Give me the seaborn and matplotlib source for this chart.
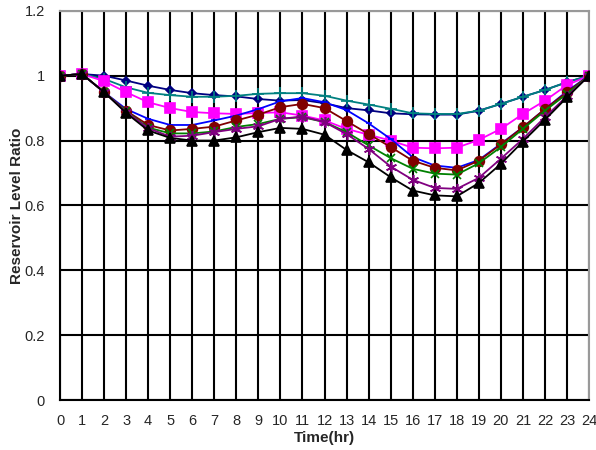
import matplotlib
matplotlib.use("Agg")
import matplotlib.pyplot as plt
import seaborn as sns
import pandas as pd

hours = list(range(25))

navy = [1.0, 1.005, 1.0, 0.985, 0.969, 0.956, 0.946, 0.940, 0.936, 0.928, 0.923, 0.925, 0.915,
        0.900, 0.893, 0.884, 0.881, 0.880, 0.880, 0.892, 0.913, 0.935, 0.956, 0.980, 1.0]
teal = [1.0, 1.005, 0.990, 0.964, 0.947, 0.940, 0.935, 0.935, 0.938, 0.944, 0.946, 0.946, 0.938,
        0.923, 0.911, 0.898, 0.884, 0.882, 0.882, 0.892, 0.913, 0.935, 0.956, 0.980, 1.0]
magenta = [1.0, 1.005, 0.983, 0.949, 0.918, 0.900, 0.888, 0.884, 0.882, 0.885, 0.887, 0.877, 0.862,
           0.836, 0.818, 0.800, 0.778, 0.776, 0.778, 0.802, 0.836, 0.882, 0.923, 0.971, 1.0]
blue = [1.0, 1.005, 0.949, 0.897, 0.867, 0.848, 0.848, 0.862, 0.877, 0.897, 0.921, 0.931, 0.918,
        0.894, 0.853, 0.805, 0.749, 0.723, 0.716, 0.740, 0.790, 0.841, 0.897, 0.952, 1.0]
darkred = [1.0, 1.005, 0.949, 0.892, 0.848, 0.831, 0.836, 0.843, 0.862, 0.880, 0.903, 0.913, 0.900,
           0.860, 0.820, 0.780, 0.738, 0.716, 0.708, 0.738, 0.788, 0.841, 0.897, 0.949, 1.0]
green = [1.0, 1.005, 0.949, 0.890, 0.840, 0.822, 0.822, 0.828, 0.842, 0.851, 0.867, 0.872, 0.857,
         0.826, 0.785, 0.746, 0.713, 0.698, 0.695, 0.730, 0.780, 0.836, 0.892, 0.944, 1.0]
purple = [1.0, 1.005, 0.949, 0.888, 0.838, 0.812, 0.815, 0.826, 0.836, 0.844, 0.867, 0.874, 0.857,
          0.820, 0.774, 0.720, 0.679, 0.654, 0.651, 0.685, 0.744, 0.805, 0.872, 0.937, 1.0]
black = [1.0, 1.005, 0.949, 0.885, 0.831, 0.808, 0.800, 0.800, 0.810, 0.826, 0.839, 0.836, 0.818,
         0.771, 0.733, 0.687, 0.646, 0.631, 0.628, 0.669, 0.728, 0.797, 0.864, 0.933, 1.0]

series = [
    (navy, "#000080", "D", 4.5),
    (teal, "#008080", "+", 8),
    (magenta, "#FF00FF", "s", 6.5),
    (blue, "#0000FF", "_", 5),
    (darkred, "#800000", "o", 7),
    (green, "#008000", "x", 6),
    (purple, "#800080", (6, 2, 0), 8),
    (black, "#000000", "^", 6.5),
]

sns.set_style("white")
plt.rcParams['font.family'] = ['Liberation Sans', 'DejaVu Sans']

fig = plt.figure(figsize=(5.96, 4.5), dpi=100)
ax = fig.add_axes([0.1007, 0.111, 0.8876, 0.865])

for vals, col, mk, ms in series:
    df = pd.DataFrame({"hr": hours, "ratio": vals})
    sns.lineplot(data=df, x="hr", y="ratio", ax=ax, color=col, marker=mk,
                 markersize=ms, markeredgecolor=col, markeredgewidth=1.2,
                 linewidth=1.3, zorder=3)

ax.set_xlim(0, 24)
ax.set_ylim(0, 1.2)
ax.set_xticks(range(25))
ax.set_yticks([0, 0.2, 0.4, 0.6, 0.8, 1.0, 1.2])
ax.set_yticklabels(["0", "0.2", "0.4", "0.6", "0.8", "1", "1.2"])
ax.grid(True, color="black", linewidth=1.5, zorder=1)
ax.set_axisbelow(True)
ax.tick_params(axis="y", length=0, labelsize=10.5, pad=11)
ax.tick_params(axis="x", length=0, labelsize=10.5, pad=10)
for s in ["top", "right"]:
    ax.spines[s].set_color("#999999")
    ax.spines[s].set_linewidth(1.5)
for s in ["left", "bottom"]:
    ax.spines[s].set_color("black")
    ax.spines[s].set_linewidth(1.5)

ax.set_xlabel("Time(hr)", fontsize=11, fontweight="bold", labelpad=2)
ax.set_ylabel("Reservoir Level Ratio", fontsize=11, fontweight="bold")
ax.yaxis.set_label_coords(-0.068, 0.5)

fig.savefig("out.png", dpi=100)
